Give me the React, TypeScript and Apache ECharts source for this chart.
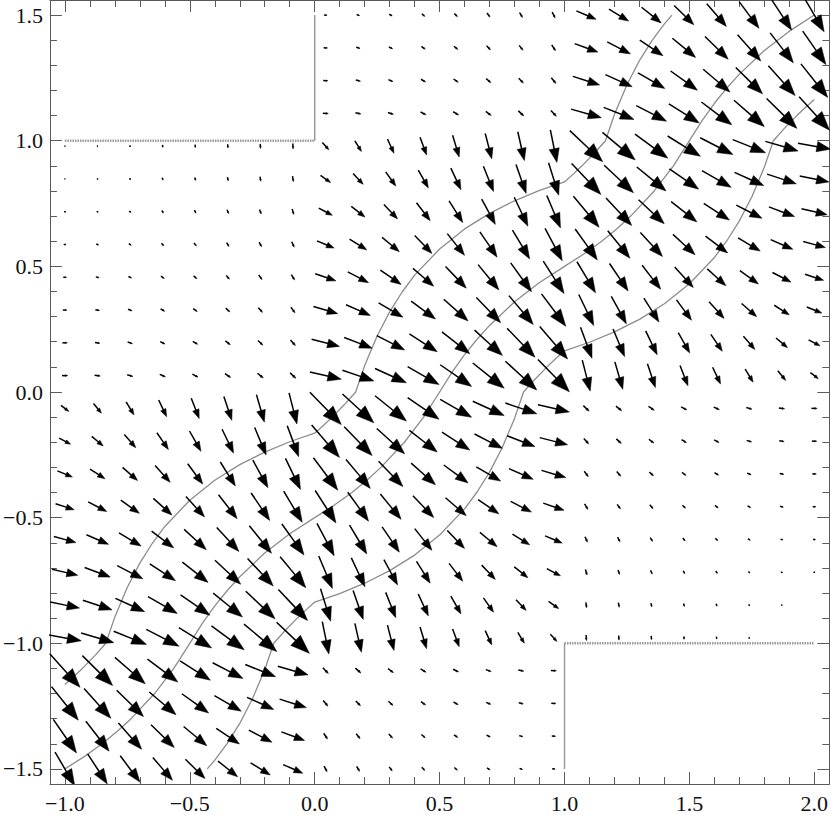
import React, { useEffect, useRef } from "react";
import * as echarts from "echarts";

const _ = null;

// Plot range (with Mathematica-style 2% padding)
const X_RANGE = [-1.06, 2.06];
const Y_RANGE = [-1.56, 1.56];

// Sample grid of the vector field (24 x 24)
const GRID_X = [-1, -0.8696, -0.7391, -0.6087, -0.4783, -0.3478, -0.2174, -0.087, 0.0435, 0.1739, 0.3043, 0.4348, 0.5652, 0.6957, 0.8261, 0.9565, 1.087, 1.2174, 1.3478, 1.4783, 1.6087, 1.7391, 1.8696, 2];
const GRID_Y = [1.5, 1.3696, 1.2391, 1.1087, 0.9783, 0.8478, 0.7174, 0.587, 0.4565, 0.3261, 0.1957, 0.0652, -0.0652, -0.1957, -0.3261, -0.4565, -0.587, -0.7174, -0.8478, -0.9783, -1.1087, -1.2391, -1.3696, -1.5];

// Horizontal components, one row per GRID_Y value (null = no arrow)
const VX: (number | null)[][] = [
  [_, _, _, _, _, _, _, _, 0.11, 0.11, 0.11, 0.11, 0.11, 0.11, 0.11, 0.11, 0.72, 0.72, 0.72, 0.72, 0.72, 0.72, 0.72, 0.72],
  [_, _, _, _, _, _, _, _, 0.14, 0.14, 0.14, 0.14, 0.14, 0.14, 0.14, 0.14, 0.85, 0.85, 0.85, 0.85, 0.85, 0.85, 0.85, 0.85],
  [_, _, _, _, _, _, _, _, 0.17, 0.17, 0.17, 0.17, 0.17, 0.17, 0.17, 0.17, 0.98, 0.98, 0.98, 0.98, 0.98, 0.98, 0.98, 0.98],
  [_, _, _, _, _, _, _, _, 0.2, 0.2, 0.2, 0.2, 0.2, 0.2, 0.2, 0.2, 1.11, 1.11, 1.11, 1.11, 1.11, 1.11, 1.11, 1.11],
  [0.01, 0.01, 0.01, 0.01, 0.01, 0.01, 0.01, 0.01, 0.24, 0.24, 0.24, 0.24, 0.24, 0.24, 0.24, 0.24, 1.2, 1.2, 1.2, 1.2, 1.2, 1.2, 1.2, 1.2],
  [0.03, 0.03, 0.03, 0.03, 0.03, 0.03, 0.03, 0.03, 0.37, 0.37, 0.37, 0.37, 0.37, 0.37, 0.37, 0.37, 1.07, 1.07, 1.07, 1.07, 1.07, 1.07, 1.07, 1.07],
  [0.06, 0.06, 0.06, 0.06, 0.06, 0.06, 0.06, 0.06, 0.5, 0.5, 0.5, 0.5, 0.5, 0.5, 0.5, 0.5, 0.94, 0.94, 0.94, 0.94, 0.94, 0.94, 0.94, 0.94],
  [0.09, 0.09, 0.09, 0.09, 0.09, 0.09, 0.09, 0.09, 0.63, 0.63, 0.63, 0.63, 0.63, 0.63, 0.63, 0.63, 0.81, 0.81, 0.81, 0.81, 0.81, 0.81, 0.81, 0.81],
  [0.12, 0.12, 0.12, 0.12, 0.12, 0.12, 0.12, 0.12, 0.76, 0.76, 0.76, 0.76, 0.76, 0.76, 0.76, 0.76, 0.68, 0.68, 0.68, 0.68, 0.68, 0.68, 0.68, 0.68],
  [0.15, 0.15, 0.15, 0.15, 0.15, 0.15, 0.15, 0.15, 0.89, 0.89, 0.89, 0.89, 0.89, 0.89, 0.89, 0.89, 0.55, 0.55, 0.55, 0.55, 0.55, 0.55, 0.55, 0.55],
  [0.18, 0.18, 0.18, 0.18, 0.18, 0.18, 0.18, 0.18, 1.02, 1.02, 1.02, 1.02, 1.02, 1.02, 1.02, 1.02, 0.42, 0.42, 0.42, 0.42, 0.42, 0.42, 0.42, 0.42],
  [0.21, 0.21, 0.21, 0.21, 0.21, 0.21, 0.21, 0.21, 1.15, 1.15, 1.15, 1.15, 1.15, 1.15, 1.15, 1.15, 0.29, 0.29, 0.29, 0.29, 0.29, 0.29, 0.29, 0.29],
  [0.29, 0.29, 0.29, 0.29, 0.29, 0.29, 0.29, 0.29, 1.15, 1.15, 1.15, 1.15, 1.15, 1.15, 1.15, 1.15, 0.21, 0.21, 0.21, 0.21, 0.21, 0.21, 0.21, 0.21],
  [0.42, 0.42, 0.42, 0.42, 0.42, 0.42, 0.42, 0.42, 1.02, 1.02, 1.02, 1.02, 1.02, 1.02, 1.02, 1.02, 0.18, 0.18, 0.18, 0.18, 0.18, 0.18, 0.18, 0.18],
  [0.55, 0.55, 0.55, 0.55, 0.55, 0.55, 0.55, 0.55, 0.89, 0.89, 0.89, 0.89, 0.89, 0.89, 0.89, 0.89, 0.15, 0.15, 0.15, 0.15, 0.15, 0.15, 0.15, 0.15],
  [0.68, 0.68, 0.68, 0.68, 0.68, 0.68, 0.68, 0.68, 0.76, 0.76, 0.76, 0.76, 0.76, 0.76, 0.76, 0.76, 0.12, 0.12, 0.12, 0.12, 0.12, 0.12, 0.12, 0.12],
  [0.81, 0.81, 0.81, 0.81, 0.81, 0.81, 0.81, 0.81, 0.63, 0.63, 0.63, 0.63, 0.63, 0.63, 0.63, 0.63, 0.09, 0.09, 0.09, 0.09, 0.09, 0.09, 0.09, 0.09],
  [0.94, 0.94, 0.94, 0.94, 0.94, 0.94, 0.94, 0.94, 0.5, 0.5, 0.5, 0.5, 0.5, 0.5, 0.5, 0.5, 0.06, 0.06, 0.06, 0.06, 0.06, 0.06, 0.06, 0.06],
  [1.07, 1.07, 1.07, 1.07, 1.07, 1.07, 1.07, 1.07, 0.37, 0.37, 0.37, 0.37, 0.37, 0.37, 0.37, 0.37, 0.03, 0.03, 0.03, 0.03, 0.03, 0.03, 0.03, 0.03],
  [1.2, 1.2, 1.2, 1.2, 1.2, 1.2, 1.2, 1.2, 0.24, 0.24, 0.24, 0.24, 0.24, 0.24, 0.24, 0.24, 0.01, 0.01, 0.01, 0.01, 0.01, 0.01, 0.01, 0.01],
  [1.11, 1.11, 1.11, 1.11, 1.11, 1.11, 1.11, 1.11, 0.2, 0.2, 0.2, 0.2, 0.2, 0.2, 0.2, 0.2, _, _, _, _, _, _, _, _],
  [0.98, 0.98, 0.98, 0.98, 0.98, 0.98, 0.98, 0.98, 0.17, 0.17, 0.17, 0.17, 0.17, 0.17, 0.17, 0.17, _, _, _, _, _, _, _, _],
  [0.85, 0.85, 0.85, 0.85, 0.85, 0.85, 0.85, 0.85, 0.14, 0.14, 0.14, 0.14, 0.14, 0.14, 0.14, 0.14, _, _, _, _, _, _, _, _],
  [0.72, 0.72, 0.72, 0.72, 0.72, 0.72, 0.72, 0.72, 0.11, 0.11, 0.11, 0.11, 0.11, 0.11, 0.11, 0.11, _, _, _, _, _, _, _, _],
];

// Vertical components
const VY: (number | null)[][] = [
  [_, _, _, _, _, _, _, _, -0.01, -0.04, -0.07, -0.1, -0.12, -0.15, -0.18, -0.21, -0.31, -0.44, -0.57, -0.7, -0.83, -0.96, -1.09, -1.22],
  [_, _, _, _, _, _, _, _, -0.01, -0.04, -0.07, -0.1, -0.12, -0.15, -0.18, -0.21, -0.31, -0.44, -0.57, -0.7, -0.83, -0.96, -1.09, -1.22],
  [_, _, _, _, _, _, _, _, -0.01, -0.04, -0.07, -0.1, -0.12, -0.15, -0.18, -0.21, -0.31, -0.44, -0.57, -0.7, -0.83, -0.96, -1.09, -1.22],
  [_, _, _, _, _, _, _, _, -0.01, -0.04, -0.07, -0.1, -0.12, -0.15, -0.18, -0.21, -0.31, -0.44, -0.57, -0.7, -0.83, -0.96, -1.09, -1.22],
  [0, -0.03, -0.06, -0.09, -0.11, -0.14, -0.17, -0.2, -0.26, -0.39, -0.52, -0.65, -0.79, -0.92, -1.05, -1.18, -1.13, -1.0, -0.87, -0.74, -0.61, -0.48, -0.35, -0.22],
  [0, -0.03, -0.06, -0.09, -0.11, -0.14, -0.17, -0.2, -0.26, -0.39, -0.52, -0.65, -0.79, -0.92, -1.05, -1.18, -1.13, -1.0, -0.87, -0.74, -0.61, -0.48, -0.35, -0.22],
  [0, -0.03, -0.06, -0.09, -0.11, -0.14, -0.17, -0.2, -0.26, -0.39, -0.52, -0.65, -0.79, -0.92, -1.05, -1.18, -1.13, -1.0, -0.87, -0.74, -0.61, -0.48, -0.35, -0.22],
  [0, -0.03, -0.06, -0.09, -0.11, -0.14, -0.17, -0.2, -0.26, -0.39, -0.52, -0.65, -0.79, -0.92, -1.05, -1.18, -1.13, -1.0, -0.87, -0.74, -0.61, -0.48, -0.35, -0.22],
  [0, -0.03, -0.06, -0.09, -0.11, -0.14, -0.17, -0.2, -0.26, -0.39, -0.52, -0.65, -0.79, -0.92, -1.05, -1.18, -1.13, -1.0, -0.87, -0.74, -0.61, -0.48, -0.35, -0.22],
  [0, -0.03, -0.06, -0.09, -0.11, -0.14, -0.17, -0.2, -0.26, -0.39, -0.52, -0.65, -0.79, -0.92, -1.05, -1.18, -1.13, -1.0, -0.87, -0.74, -0.61, -0.48, -0.35, -0.22],
  [0, -0.03, -0.06, -0.09, -0.11, -0.14, -0.17, -0.2, -0.26, -0.39, -0.52, -0.65, -0.79, -0.92, -1.05, -1.18, -1.13, -1.0, -0.87, -0.74, -0.61, -0.48, -0.35, -0.22],
  [0, -0.03, -0.06, -0.09, -0.11, -0.14, -0.17, -0.2, -0.26, -0.39, -0.52, -0.65, -0.79, -0.92, -1.05, -1.18, -1.13, -1.0, -0.87, -0.74, -0.61, -0.48, -0.35, -0.22],
  [-0.22, -0.35, -0.48, -0.61, -0.74, -0.87, -1.0, -1.13, -1.18, -1.05, -0.92, -0.79, -0.65, -0.52, -0.39, -0.26, -0.2, -0.17, -0.14, -0.11, -0.09, -0.06, -0.03, 0],
  [-0.22, -0.35, -0.48, -0.61, -0.74, -0.87, -1.0, -1.13, -1.18, -1.05, -0.92, -0.79, -0.65, -0.52, -0.39, -0.26, -0.2, -0.17, -0.14, -0.11, -0.09, -0.06, -0.03, 0],
  [-0.22, -0.35, -0.48, -0.61, -0.74, -0.87, -1.0, -1.13, -1.18, -1.05, -0.92, -0.79, -0.65, -0.52, -0.39, -0.26, -0.2, -0.17, -0.14, -0.11, -0.09, -0.06, -0.03, 0],
  [-0.22, -0.35, -0.48, -0.61, -0.74, -0.87, -1.0, -1.13, -1.18, -1.05, -0.92, -0.79, -0.65, -0.52, -0.39, -0.26, -0.2, -0.17, -0.14, -0.11, -0.09, -0.06, -0.03, 0],
  [-0.22, -0.35, -0.48, -0.61, -0.74, -0.87, -1.0, -1.13, -1.18, -1.05, -0.92, -0.79, -0.65, -0.52, -0.39, -0.26, -0.2, -0.17, -0.14, -0.11, -0.09, -0.06, -0.03, 0],
  [-0.22, -0.35, -0.48, -0.61, -0.74, -0.87, -1.0, -1.13, -1.18, -1.05, -0.92, -0.79, -0.65, -0.52, -0.39, -0.26, -0.2, -0.17, -0.14, -0.11, -0.09, -0.06, -0.03, 0],
  [-0.22, -0.35, -0.48, -0.61, -0.74, -0.87, -1.0, -1.13, -1.18, -1.05, -0.92, -0.79, -0.65, -0.52, -0.39, -0.26, -0.2, -0.17, -0.14, -0.11, -0.09, -0.06, -0.03, 0],
  [-0.22, -0.35, -0.48, -0.61, -0.74, -0.87, -1.0, -1.13, -1.18, -1.05, -0.92, -0.79, -0.65, -0.52, -0.39, -0.26, -0.2, -0.17, -0.14, -0.11, -0.09, -0.06, -0.03, 0],
  [-1.22, -1.09, -0.96, -0.83, -0.7, -0.57, -0.44, -0.31, -0.21, -0.18, -0.15, -0.12, -0.1, -0.07, -0.04, -0.01, _, _, _, _, _, _, _, _],
  [-1.22, -1.09, -0.96, -0.83, -0.7, -0.57, -0.44, -0.31, -0.21, -0.18, -0.15, -0.12, -0.1, -0.07, -0.04, -0.01, _, _, _, _, _, _, _, _],
  [-1.22, -1.09, -0.96, -0.83, -0.7, -0.57, -0.44, -0.31, -0.21, -0.18, -0.15, -0.12, -0.1, -0.07, -0.04, -0.01, _, _, _, _, _, _, _, _],
  [-1.22, -1.09, -0.96, -0.83, -0.7, -0.57, -0.44, -0.31, -0.21, -0.18, -0.15, -0.12, -0.1, -0.07, -0.04, -0.01, _, _, _, _, _, _, _, _],
];

// Gray contour curves
const CURVE_A = [
  [-1.0, -1.164], [-0.962, -1.13], [-0.93, -1.1], [-0.881, -1.05], [-0.836, -1.0],
  [-0.8, -0.895], [-0.75, -0.777], [-0.7, -0.681], [-0.65, -0.602], [-0.6, -0.535], [-0.5, -0.431],
  [-0.4, -0.351], [-0.3, -0.289], [-0.2, -0.239], [-0.1, -0.198], [0, -0.164],
  [0.038, -0.13], [0.07, -0.1], [0.119, -0.05], [0.164, 0],
  [0.2, 0.105], [0.25, 0.223], [0.3, 0.319], [0.35, 0.398], [0.4, 0.465], [0.5, 0.569],
  [0.6, 0.649], [0.7, 0.711], [0.8, 0.761], [0.9, 0.802], [1.0, 0.836],
  [1.038, 0.87], [1.07, 0.9], [1.119, 0.95], [1.164, 1.0],
  [1.2, 1.105], [1.25, 1.223], [1.3, 1.319], [1.35, 1.398], [1.4, 1.465], [1.43, 1.5],
];
const CURVE_B = [
  [-1.0, -1.5], [-0.921, -1.45], [-0.851, -1.4], [-0.79, -1.35], [-0.735, -1.3], [-0.641, -1.2], [-0.564, -1.1], [-0.5, -1.0],
  [-0.45, -0.921], [-0.4, -0.851], [-0.35, -0.79], [-0.3, -0.735], [-0.2, -0.641], [-0.1, -0.564], [0, -0.5],
  [0.079, -0.45], [0.149, -0.4], [0.21, -0.35], [0.265, -0.3], [0.359, -0.2], [0.436, -0.1], [0.5, 0],
  [0.55, 0.079], [0.6, 0.149], [0.65, 0.21], [0.7, 0.265], [0.8, 0.359], [0.9, 0.436], [1.0, 0.5],
  [1.079, 0.55], [1.149, 0.6], [1.21, 0.65], [1.265, 0.7], [1.359, 0.8], [1.436, 0.9], [1.5, 1.0],
  [1.55, 1.079], [1.6, 1.149], [1.65, 1.21], [1.7, 1.265], [1.8, 1.359], [1.9, 1.436], [2.0, 1.5],
];
const CURVE_C = [
  [-0.43, -1.5], [-0.4, -1.465], [-0.35, -1.398], [-0.3, -1.319], [-0.25, -1.223], [-0.2, -1.105], [-0.164, -1.0],
  [-0.119, -0.95], [-0.07, -0.9], [-0.038, -0.87], [0, -0.836],
  [0.1, -0.802], [0.2, -0.761], [0.3, -0.711], [0.4, -0.649], [0.5, -0.569], [0.6, -0.465],
  [0.65, -0.398], [0.7, -0.319], [0.75, -0.223], [0.8, -0.105], [0.836, 0],
  [0.881, 0.05], [0.93, 0.1], [0.962, 0.13], [1.0, 0.164],
  [1.1, 0.198], [1.2, 0.239], [1.3, 0.289], [1.4, 0.351], [1.5, 0.431], [1.6, 0.535],
  [1.65, 0.602], [1.7, 0.681], [1.75, 0.777], [1.8, 0.895], [1.836, 1.0],
  [1.881, 1.05], [1.93, 1.1], [1.962, 1.13], [2.0, 1.164],
];

// Region boundaries (boxes)
const BOX_TL_EDGE = [[-1, 1], [0, 1]];
const BOX_TL_SIDE = [[0, 1], [0, 1.5]];
const BOX_BR_EDGE = [[1, -1], [2, -1]];
const BOX_BR_SIDE = [[1, -1], [1, -1.5]];

// Ticks
const MAJOR_X = [-1, -0.5, 0, 0.5, 1, 1.5, 2];
const MAJOR_Y = [-1.5, -1, -0.5, 0, 0.5, 1, 1.5];
const MINOR_X = [-1, -0.9, -0.8, -0.7, -0.6, -0.5, -0.4, -0.3, -0.2, -0.1, 0, 0.1, 0.2, 0.3, 0.4, 0.5, 0.6, 0.7, 0.8, 0.9, 1, 1.1, 1.2, 1.3, 1.4, 1.5, 1.6, 1.7, 1.8, 1.9, 2];
const MINOR_Y = [-1.5, -1.4, -1.3, -1.2, -1.1, -1, -0.9, -0.8, -0.7, -0.6, -0.5, -0.4, -0.3, -0.2, -0.1, 0, 0.1, 0.2, 0.3, 0.4, 0.5, 0.6, 0.7, 0.8, 0.9, 1, 1.1, 1.2, 1.3, 1.4, 1.5];

const ARROW_SCALE = 0.1094; // data units per field unit
const FRAME_COLOR = "#5a5a5a";
const CURVE_COLOR = "#8c8c8c";
const BOX_COLOR = "#9a9a9a";
const FONT = "Liberation Serif";

const fmt = (v: number) => (v < 0 ? "\u2212" : "") + Math.abs(v).toFixed(1);

function makeAxis(dim: "x" | "y", position: string, major: boolean, labels: boolean) {
  const range = dim === "x" ? X_RANGE : Y_RANGE;
  const values = major ? (dim === "x" ? MAJOR_X : MAJOR_Y) : dim === "x" ? MINOR_X : MINOR_Y;
  return {
    type: "value",
    min: range[0],
    max: range[1],
    position,
    splitLine: { show: false },
    axisLine: { show: major, onZero: false, lineStyle: { color: FRAME_COLOR, width: 1 } },
    axisTick: {
      show: true,
      inside: true,
      length: major ? 12 : 7,
      customValues: values,
      lineStyle: { color: FRAME_COLOR, width: 1 },
    },
    axisLabel: {
      show: labels,
      customValues: values,
      formatter: fmt,
      fontFamily: FONT,
      fontSize: 22,
      color: "#111",
      margin: dim === "x" ? 8 : 7,
    },
  };
}

export default function App() {
  const ref = useRef<HTMLDivElement>(null);
  useEffect(() => {
    if (!ref.current) return;
    const chart = echarts.init(ref.current, null, { renderer: "svg" });

    const arrows: number[][] = [];
    for (let j = 0; j < GRID_Y.length; j++) {
      for (let i = 0; i < GRID_X.length; i++) {
        const u = VX[j][i];
        const v = VY[j][i];
        if (u === null || v === null) continue;
        arrows.push([GRID_X[i], GRID_Y[j], u, v]);
      }
    }

    const lineSeries = (data: number[][], color: string, width: number, type: any = "solid") => ({
      type: "line",
      data,
      showSymbol: false,
      symbol: "none",
      silent: true,
      clip: true,
      lineStyle: { color, width, type },
      z: 2,
    });

    chart.setOption({
      animation: false,
      backgroundColor: "#ffffff",
      textStyle: { fontFamily: FONT },
      grid: { left: 46, top: 0, width: 784, height: 784, containLabel: false },
      xAxis: [
        makeAxis("x", "bottom", true, true),
        makeAxis("x", "bottom", false, false),
        makeAxis("x", "top", true, false),
        makeAxis("x", "top", false, false),
      ],
      yAxis: [
        makeAxis("y", "left", true, true),
        makeAxis("y", "left", false, false),
        makeAxis("y", "right", true, false),
        makeAxis("y", "right", false, false),
      ],
      series: [
        lineSeries(BOX_TL_EDGE, BOX_COLOR, 2.4, [1.5, 1]),
        lineSeries(BOX_TL_SIDE, BOX_COLOR, 1.5),
        lineSeries(BOX_BR_EDGE, BOX_COLOR, 2.4, [1.5, 1]),
        lineSeries(BOX_BR_SIDE, BOX_COLOR, 1.5),
        lineSeries(CURVE_A, CURVE_COLOR, 1.3),
        lineSeries(CURVE_B, CURVE_COLOR, 1.3),
        lineSeries(CURVE_C, CURVE_COLOR, 1.3),
        {
          type: "custom",
          data: arrows,
          encode: { x: 0, y: 1 },
          clip: true,
          silent: true,
          z: 3,
          renderItem: (params: any, api: any) => {
            const x = api.value(0);
            const y = api.value(1);
            const u = api.value(2);
            const v = api.value(3);
            const p0 = api.coord([x - (u * ARROW_SCALE) / 2, y - (v * ARROW_SCALE) / 2]);
            const p1 = api.coord([x + (u * ARROW_SCALE) / 2, y + (v * ARROW_SCALE) / 2]);
            const dx = p1[0] - p0[0];
            const dy = p1[1] - p0[1];
            const L = Math.hypot(dx, dy);
            if (L < 1) {
              const c = api.coord([x, y]);
              return { type: "circle", shape: { cx: c[0], cy: c[1], r: 0.7 }, style: { fill: "#000" } };
            }
            const ux = dx / L;
            const uy = dy / L;
            const hl = 0.42 * L;
            const hw = 0.155 * L;
            const bx = p1[0] - ux * hl;
            const by = p1[1] - uy * hl;
            return {
              type: "group",
              children: [
                {
                  type: "line",
                  shape: { x1: p0[0], y1: p0[1], x2: bx + ux * 0.5, y2: by + uy * 0.5 },
                  style: { stroke: "#000", lineWidth: 1.5, fill: null },
                },
                {
                  type: "polygon",
                  shape: {
                    points: [
                      [p1[0], p1[1]],
                      [bx - uy * hw, by + ux * hw],
                      [bx + uy * hw, by - ux * hw],
                    ],
                  },
                  style: { fill: "#000", stroke: "#000", lineWidth: 0.5 },
                },
              ],
            };
          },
        },
      ],
    });
    return () => chart.dispose();
  }, []);

  return (
    <div
      ref={ref}
      style={{ position: "fixed", left: 0, top: 0, width: 831, height: 815, background: "#fff" }}
    />
  );
}
